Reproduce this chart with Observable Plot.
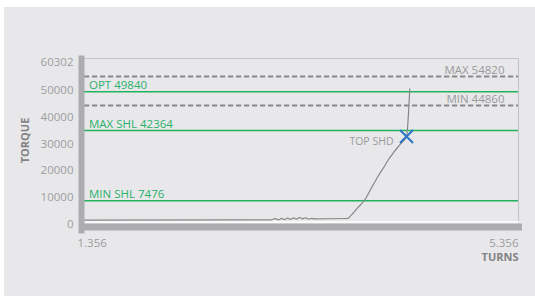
<!DOCTYPE html>
<html>
<head>
<meta charset="utf-8">
<script src="https://cdn.jsdelivr.net/npm/d3@7"></script>
<script src="https://cdn.jsdelivr.net/npm/@observablehq/plot@0.6"></script>
<style>
  html, body { margin: 0; padding: 0; background: #ffffff; }
  #wrap { position: relative; width: 535px; height: 296px; overflow: hidden; }
  #wrap svg { position: absolute; left: 4px; top: 7px; background: #e8e8ea; }
</style>
</head>
<body>
<div id="wrap"></div>
<script>
// ---- data ----
const turns  = [1.356, 2.886, 3.070, 3.116, 3.144, 3.172, 3.199, 3.227, 3.255, 3.282, 3.310, 3.338, 3.365, 3.393, 3.421, 3.448, 3.476, 3.780, 3.808, 3.869, 3.946, 3.983, 4.022, 4.066, 4.115, 4.158, 4.207, 4.245, 4.284, 4.324, 4.354];
const torque = [1650, 1750, 1750, 2200, 1700, 2300, 1800, 2400, 1900, 2500, 2000, 2600, 2100, 2500, 2000, 2300, 2100, 2230, 3200, 6000, 9600, 12300, 15150, 18240, 21330, 24200, 26900, 28850, 30630, 32750, 50500];

const yTicks = [0, 10000, 20000, 30000, 40000, 50000, 60302];
const xTicks = [1.356, 5.356];

const boundLabels = ["MAX 54820", "MIN 44860"];
const boundValues = [55100, 44300];

const shlLabels = ["OPT 49840", "MAX SHL 42364", "MIN SHL 7476"];
const shlValues = [49400, 35000, 8800];

const markerLabel = "TOP SHD";
const markerTurns = 4.324;
const markerTorque = 32750;

// ---- build ----
const curve = turns.map((t, i) => ({t, v: torque[i]}));
const bounds = boundLabels.map((l, i) => ({label: l, v: boundValues[i]}));
const shl = shlLabels.map((l, i) => ({label: l, v: shlValues[i]}));
const marker = [{label: markerLabel, t: markerTurns, v: markerTorque}];

const green = "#22b25e";
const font = "'Open Sans', sans-serif";

const chart = Plot.plot({
  width: 531,
  height: 289,
  marginLeft: 80,
  marginRight: 17,
  marginTop: 51,
  marginBottom: 66,
  insetTop: 4,
  insetBottom: 6,
  x: {domain: [1.356, 5.356], axis: null},
  y: {domain: [0, 60302], axis: null},
  style: {background: "#e8e8ea", fontFamily: font, overflow: "visible"},
  marks: [
    Plot.frame({anchor: "top", stroke: "#c2c2c4", strokeWidth: 1}),
    Plot.frame({anchor: "right", stroke: "#c2c2c4", strokeWidth: 1}),
    // dashed bounds
    Plot.ruleY(bounds, {y: "v", stroke: "#8a8a8c", strokeWidth: 2, strokeDasharray: "5.3,2.7"}),
    Plot.text(bounds, {y: "v", text: "label", frameAnchor: "right", textAnchor: "end", lineAnchor: "bottom", dx: -14, dy: -2, fill: "#9a9a9c", fontSize: 11.5}),
    // green shoulder lines
    Plot.ruleY(shl, {y: "v", stroke: green, strokeWidth: 1.5}),
    Plot.text(shl, {y: "v", text: "label", frameAnchor: "left", textAnchor: "start", lineAnchor: "bottom", dx: 4.5, dy: -2.5, fill: "#2bb06a", fontSize: 11.5}),
    // torque curve
    Plot.line(curve, {x: "t", y: "v", stroke: "#868688", strokeWidth: 1.2, curve: "monotone-x"}),
    // axis bars
    Plot.frame({anchor: "bottom", stroke: "#ffffff", strokeWidth: 1.5, dy: -8.5}),
    Plot.frame({anchor: "bottom", stroke: "#adadb1", strokeWidth: 7, dy: -3.5}),
    Plot.frame({anchor: "left", stroke: "#adadb1", strokeWidth: 6, dx: -3}),
    // marker
    Plot.dot(marker, {x: "t", y: "v", symbol: "times", r: 6, stroke: "#2c74c4", strokeWidth: 2}),
    Plot.text(marker, {x: "t", y: "v", text: "label", textAnchor: "end", lineAnchor: "middle", dx: -13, dy: 5, fill: "#9a9a9c", fontSize: 10.5}),
    // y tick labels
    Plot.text(yTicks, {y: d => d, text: d => String(d), frameAnchor: "left", textAnchor: "end", lineAnchor: "middle", dx: -11, fill: "#9d9d9f", fontSize: 11.5}),
    // x tick labels
    Plot.text([xTicks[0]], {x: d => d, text: d => String(d), frameAnchor: "bottom", textAnchor: "start", lineAnchor: "middle", dx: -7, dy: 12.5, fill: "#9d9d9f", fontSize: 11.5}),
    Plot.text([xTicks[1]], {x: d => d, text: d => String(d), frameAnchor: "bottom", textAnchor: "end", lineAnchor: "middle", dy: 12.5, fill: "#9d9d9f", fontSize: 11.5}),
    // axis titles
    Plot.text(["TURNS"], {frameAnchor: "bottom-right", text: d => d, textAnchor: "end", lineAnchor: "middle", dy: 27, fill: "#838385", fontSize: 11, fontWeight: "bold"}),
    Plot.text(["TORQUE"], {frameAnchor: "left", text: d => d, textAnchor: "middle", lineAnchor: "middle", rotate: -90, dx: -59, dy: -4, fill: "#838385", fontSize: 11, fontWeight: "bold"})
  ]
});

document.getElementById("wrap").appendChild(chart);
</script>
</body>
</html>
